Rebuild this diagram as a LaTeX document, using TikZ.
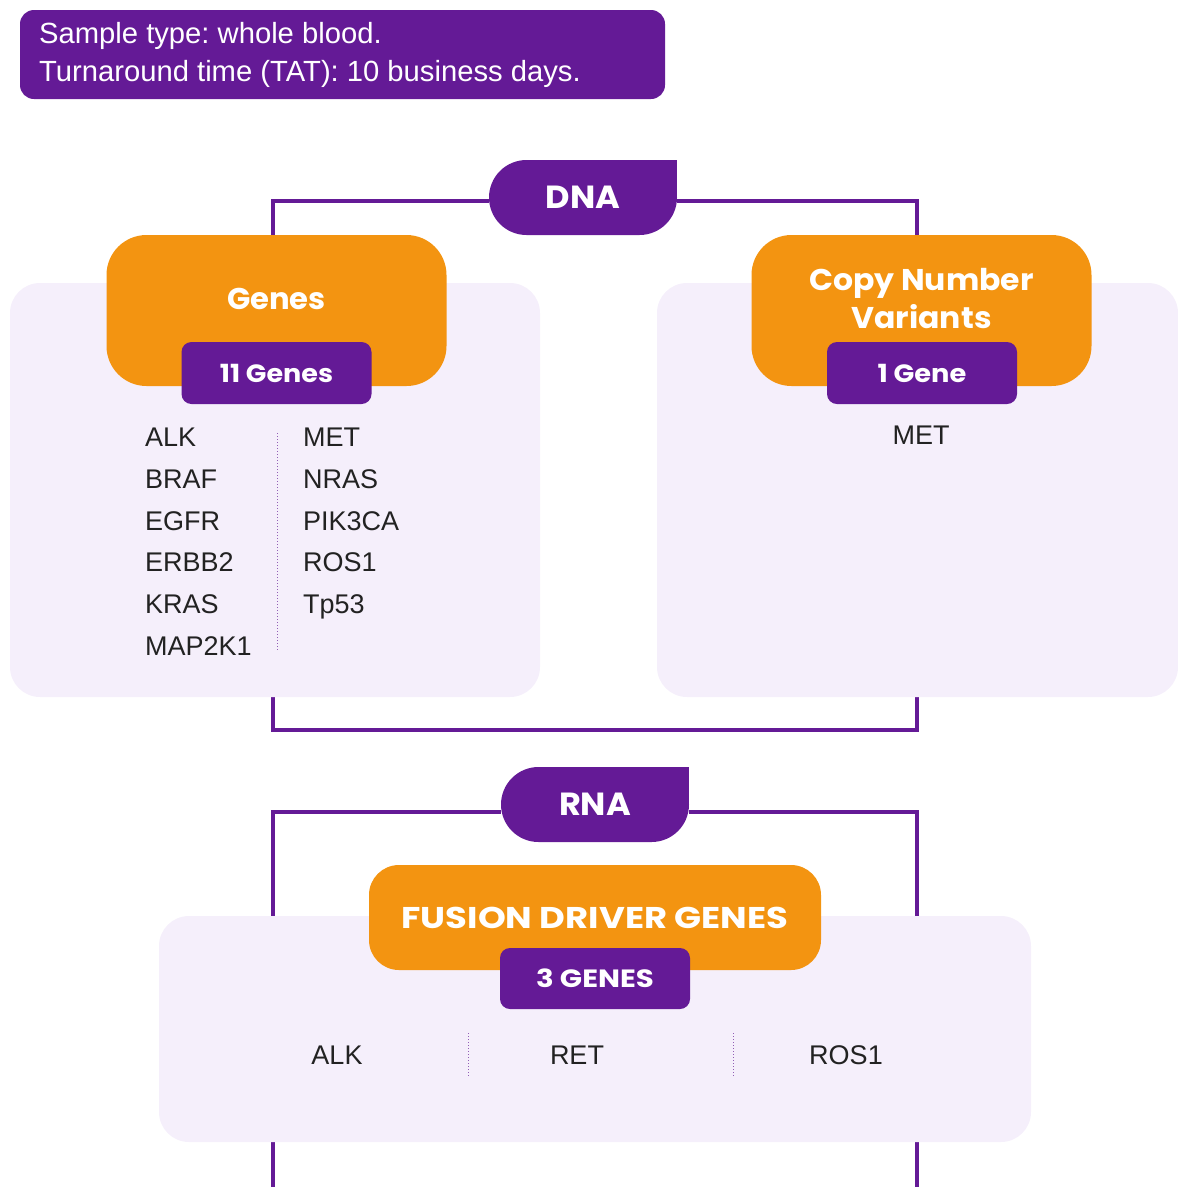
\documentclass[tikz,border=0pt]{standalone}
\usepackage{graphicx}
\usepackage{fontspec}
\setmainfont{Liberation Sans}
\newfontfamily\headfont{Poppins}
\newcommand{\wideto}[2]{\scalebox{#1}[1]{#2}}
\definecolor{pp}{HTML}{641A96}
\definecolor{org}{HTML}{F39411}
\definecolor{lav}{HTML}{F5EFFB}
\definecolor{ink}{HTML}{222222}
\frenchspacing
\begin{document}
\begin{tikzpicture}[x=1pt,y=-1pt,
  pline/.style={draw=pp, line width=4pt},
  lavbox/.style={fill=lav, rounded corners=30pt, inner sep=0pt},
  orgbox/.style={fill=org, inner sep=0pt, text=white, align=center, font=\headfont\bfseries\fontsize{30}{38}\selectfont},
  badge/.style={fill=pp, rounded corners=10pt, inner sep=0pt, text=white, minimum width=190pt, minimum height=62pt, font=\headfont\bfseries\fontsize{25}{28}\selectfont},
  tab/.style={fill=pp, rounded corners=37.5pt, inner sep=0pt, minimum width=188pt, minimum height=75pt},
  tabtxt/.style={inner sep=0pt, text=white, font=\headfont\bfseries\fontsize{32}{36}\selectfont},
  gene/.style={inner sep=0pt, text=ink, font=\fontsize{27}{30}\selectfont, text height=19.3pt, text depth=0pt},
  sep/.style={draw=pp!70, dotted, line width=1pt}
]
\useasboundingbox (0,0) rectangle (1178,1187);

% info box
\node[fill=pp, rounded corners=14pt, minimum width=645pt, minimum height=89pt, inner sep=0pt] (info) at (342.5,54.5) {};
\node[anchor=west, inner sep=0pt, text=white, align=left, font=\fontsize{29.2}{38}\selectfont] (infotxt) at (39,55) {Sample type: whole blood.\\Turnaround time (TAT): 10 business days.};

% DNA connectors
\node[tab] (dna) at (583,197.5) {};
\coordinate (dl1) at (273,201);
\coordinate (dl2) at (273,250);
\coordinate (dr1) at (917,201);
\coordinate (dr2) at (917,250);
\draw[pline] (dna.west |- dl1) -- (dl1) -- (dl2);
\draw[pline] (dna.east |- dr1) -- (dr1) -- (dr2);
\coordinate (bl1) at (273,680);
\coordinate (bl2) at (273,730);
\coordinate (br2) at (917,730);
\coordinate (br1) at (917,680);
\draw[pline] (bl1) -- (bl2) -- (br2) -- (br1);

% RNA connectors
\node[tab] (rna) at (595,804.5) {};
\coordinate (rl1) at (273,812);
\coordinate (rl2) at (273,930);
\coordinate (rr1) at (917,812);
\coordinate (rr2) at (917,930);
\draw[pline] (rna.west |- rl1) -- (rl1) -- (rl2);
\draw[pline] (rna.east |- rr1) -- (rr1) -- (rr2);
\coordinate (el1) at (273,1130);
\coordinate (el2) at (273,1190);
\coordinate (er1) at (917,1130);
\coordinate (er2) at (917,1190);
\draw[pline] (el1) -- (el2);
\draw[pline] (er1) -- (er2);

% lavender panels
\node[lavbox, minimum width=530pt, minimum height=414pt] (lavL) at (275,490) {};
\node[lavbox, minimum width=521pt, minimum height=414pt] (lavR) at (917.5,490) {};
\node[lavbox, minimum width=872pt, minimum height=226pt] (lavB) at (595,1029) {};

% tabs
\fill[pp] (dna.north) rectangle (dna.east);
\fill[pp] (rna.north) rectangle (rna.east);
\node[tabtxt] (dnaT) at (dna) {\wideto{1.05}{DNA}};
\node[tabtxt] (rnaT) at (rna) {\wideto{1.05}{RNA}};

% orange headers
\node[orgbox, rounded corners=40pt, minimum width=340pt, minimum height=151pt] (genes) at (276.5,310.5) {};
\node[orgbox] (genesT) at (276.5,298.5) {\wideto{1.02}{Genes}};
\node[orgbox, rounded corners=40pt, minimum width=340pt, minimum height=151pt] (cnv) at (921.5,310.5) {};
\node[orgbox] (cnvT) at (921.5,298.5) {\wideto{1.05}{Copy Number}\\\wideto{1.05}{Variants}};
\node[orgbox, rounded corners=30pt, minimum width=452pt, minimum height=105pt] (fus) at (595,917.5) {};
\node[orgbox] (fusT) at (595,918) {\wideto{1.18}{FUSION DRIVER GENES}};

% badges
\node[badge] (b11) at (276.5,373) {\wideto{1.08}{11 Genes}};
\node[badge] (b1) at (922,373) {\wideto{1.09}{1 Gene}};
\node[badge, minimum height=61pt] (b3) at (595,978.5) {\wideto{1.17}{3 GENES}};

% gene lists
\foreach \g [count=\i] in {ALK,BRAF,EGFR,ERBB2,KRAS,MAP2K1}
  \node[gene, anchor=west] (gl\i) at (145,395.5+41.7*\i) {\g};
\foreach \g [count=\i] in {MET,NRAS,PIK3CA,ROS1,Tp53}
  \node[gene, anchor=west] (gr\i) at (303,395.5+41.7*\i) {\g};
\draw[sep] (277,433) -- (277,650);

\node[gene] (cmet) at (921,435) {MET};

\node[gene] (f1) at (337,1055) {ALK};
\node[gene] (f2) at (577,1055) {RET};
\node[gene] (f3) at (846,1055) {ROS1};
\draw[sep] (468,1033) -- (468,1077);
\draw[sep] (733,1033) -- (733,1077);
\end{tikzpicture}
\end{document}
